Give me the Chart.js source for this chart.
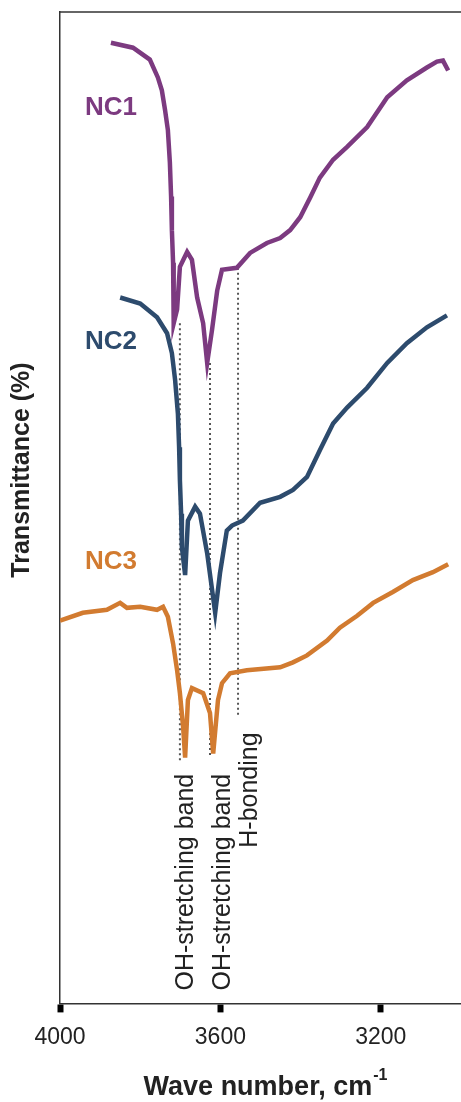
<!DOCTYPE html>
<html lang="en">
<head>
    <meta charset="UTF-8">
    <title>FTIR spectra NC1 NC2 NC3</title>
    <script src="https://cdn.jsdelivr.net/npm/chart.js"></script>
    <style>
        body { margin: 0; background: #fff; }
        #wrap { width: 461px; height: 1102px; }
    </style>
</head>
<body>
    <div id="wrap"><canvas id="ftir" width="461" height="1102"></canvas></div>
    <script>
        // wave numbers (cm-1) and transmittance (offset, arbitrary %)
        const nc1Wn = [3873, 3818, 3776, 3756, 3746, 3738, 3731, 3726, 3723, 3721, 3718, 3717, 3716, 3708, 3701, 3683, 3671, 3658, 3643, 3633, 3621, 3608, 3596, 3559, 3526, 3484, 3451, 3426, 3401, 3376, 3352, 3319, 3284, 3234, 3184, 3135, 3085, 3060, 3045, 3032];
        const nc1T  = [96.9, 96.4, 95.2, 93.4, 92.1, 90.1, 88.1, 84.8, 81.4, 78.0, 74.7, 71.3, 68.6, 70.0, 74.3, 75.8, 75.0, 71.2, 68.6, 64.6, 67.9, 71.9, 74.0, 74.2, 75.7, 76.7, 77.2, 78.0, 79.3, 81.3, 83.3, 85.1, 86.4, 88.4, 91.4, 93.1, 94.4, 95.0, 95.1, 94.1];

        const nc2Wn = [3850, 3800, 3758, 3733, 3721, 3713, 3706, 3703, 3701, 3698, 3696, 3688, 3681, 3663, 3651, 3633, 3613, 3601, 3584, 3571, 3544, 3501, 3451, 3419, 3384, 3352, 3319, 3284, 3234, 3184, 3135, 3085, 3035];
        const nc2T  = [71.2, 70.6, 69.2, 67.6, 65.6, 62.9, 59.5, 56.1, 52.8, 49.4, 46.0, 43.2, 48.7, 50.1, 49.4, 45.4, 39.4, 43.4, 47.7, 48.2, 48.7, 50.5, 51.1, 51.8, 53.1, 55.8, 58.5, 60.1, 62.1, 64.6, 66.6, 68.2, 69.4];

        const nc3Wn = [4000, 3943, 3883, 3850, 3833, 3800, 3758, 3743, 3731, 3718, 3708, 3701, 3693, 3688, 3681, 3671, 3643, 3626, 3618, 3606, 3596, 3576, 3534, 3451, 3419, 3384, 3334, 3302, 3259, 3219, 3170, 3120, 3070, 3032];
        const nc3T  = [38.6, 39.4, 39.7, 40.4, 39.9, 40.0, 39.7, 40.0, 39.0, 36.3, 33.6, 31.3, 27.9, 24.8, 30.6, 31.8, 31.3, 29.3, 25.2, 30.6, 32.3, 33.3, 33.6, 33.9, 34.4, 35.1, 36.6, 37.9, 39.1, 40.4, 41.5, 42.7, 43.5, 44.3];

        const xTicks = [4000, 3600, 3200];

        // marker lines: wave number, top and bottom transmittance
        const bandWn  = [3701, 3626, 3556];
        const bandTop = [68.6, 64.6, 74.2];
        const bandBot = [24.5, 24.8, 29.1];
        const bandText = ['OH-stretching band', 'OH-stretching band', 'H-bonding'];
        const bandTextWn = [3686, 3592, 3527];
        const bandTextEnd = [1.3, 1.3, 15.7];   // where the rotated text starts (transmittance units)

        const seriesNames = ['NC1', 'NC2', 'NC3'];
        const seriesColors = ['#7c3a80', '#2d4b6d', '#d27b30'];
        const nameY = [90.3, 66.7, 44.5];

        const toPts = (xs, ys) => xs.map((x, i) => ({ x: x, y: ys[i] }));

        const datasets = [
            { label: 'NC1', data: toPts(nc1Wn, nc1T), borderColor: seriesColors[0] },
            { label: 'NC2', data: toPts(nc2Wn, nc2T), borderColor: seriesColors[1] },
            { label: 'NC3', data: toPts(nc3Wn, nc3T), borderColor: seriesColors[2] }
        ].map(d => Object.assign(d, { borderWidth: 4.5, pointRadius: 0, tension: 0 }));

        bandWn.forEach((wn, i) => {
            datasets.push({
                label: 'band' + i,
                data: [{ x: wn, y: bandTop[i] }, { x: wn, y: bandBot[i] }],
                borderColor: '#555',
                borderWidth: 2,
                borderDash: [2, 3],
                pointRadius: 0
            });
        });

        // text, frame top and axis titles
        const decor = {
            id: 'decor',
            afterDraw(chart) {
                const ctx = chart.ctx, a = chart.chartArea;
                const xs = chart.scales.x, ys = chart.scales.y;
                ctx.save();
                ctx.strokeStyle = '#333';
                ctx.lineWidth = 1.5;
                ctx.beginPath();
                ctx.moveTo(a.left, a.top);
                ctx.lineTo(a.right, a.top);
                ctx.stroke();

                // series names
                ctx.font = 'bold 26px "Liberation Sans", Arial, sans-serif';
                ctx.textBaseline = 'middle';
                ctx.textAlign = 'left';
                seriesNames.forEach((n, i) => {
                    ctx.fillStyle = seriesColors[i];
                    ctx.fillText(n, a.left + 25, ys.getPixelForValue(nameY[i]));
                });

                // rotated band labels
                ctx.fillStyle = '#222';
                ctx.font = '25px "Liberation Sans", Arial, sans-serif';
                bandText.forEach((t, i) => {
                    ctx.save();
                    ctx.translate(xs.getPixelForValue(bandTextWn[i]), ys.getPixelForValue(bandTextEnd[i]));
                    ctx.rotate(-Math.PI / 2);
                    ctx.textAlign = 'left';
                    ctx.textBaseline = 'middle';
                    ctx.fillText(t, 0, 0);
                    ctx.restore();
                });

                // y title
                ctx.save();
                ctx.fillStyle = '#222';
                ctx.font = 'bold 25px "Liberation Sans", Arial, sans-serif';
                ctx.translate(22, 470);
                ctx.rotate(-Math.PI / 2);
                ctx.textAlign = 'center';
                ctx.textBaseline = 'middle';
                ctx.fillText('Transmittance (%)', 0, 0);
                ctx.restore();

                // x title with superscript
                ctx.fillStyle = '#222';
                ctx.font = 'bold 27px "Liberation Sans", Arial, sans-serif';
                ctx.textBaseline = 'middle';
                ctx.textAlign = 'left';
                const main = 'Wave number, cm';
                const w = ctx.measureText(main).width;
                ctx.font = 'bold 16px "Liberation Sans", Arial, sans-serif';
                const sw = ctx.measureText('-1').width;
                const x0 = 265 - (w + sw) / 2;
                ctx.font = 'bold 27px "Liberation Sans", Arial, sans-serif';
                ctx.fillText(main, x0, 1088);
                ctx.font = 'bold 16px "Liberation Sans", Arial, sans-serif';
                ctx.fillText('-1', x0 + w + 1, 1076);
                ctx.restore();
            }
        };

        new Chart(document.getElementById('ftir'), {
            type: 'line',
            data: { datasets: datasets },
            options: {
                responsive: false,
                animation: false,
                layout: { padding: { left: 60, top: 12, right: 0, bottom: 40 } },
                plugins: { legend: { display: false }, tooltip: { enabled: false } },
                scales: {
                    x: {
                        type: 'linear',
                        reverse: true,
                        min: 3000,
                        max: 4000,
                        afterBuildTicks: s => { s.ticks = xTicks.map(v => ({ value: v })); },
                        border: { display: true, color: '#333', width: 1.5 },
                        grid: { display: true, drawOnChartArea: false, drawTicks: true, tickLength: 9, tickWidth: 6, tickColor: '#000' },
                        ticks: { padding: 11, color: '#222', font: { size: 23, family: '"Liberation Sans", Arial, sans-serif' }, maxRotation: 0, callback: v => String(v) }
                    },
                    y: {
                        min: 0,
                        max: 100,
                        border: { display: true, color: '#333', width: 1.5 },
                        grid: { display: false, drawTicks: false },
                        ticks: { display: false }
                    }
                }
            },
            plugins: [decor]
        });
    </script>
</body>
</html>
